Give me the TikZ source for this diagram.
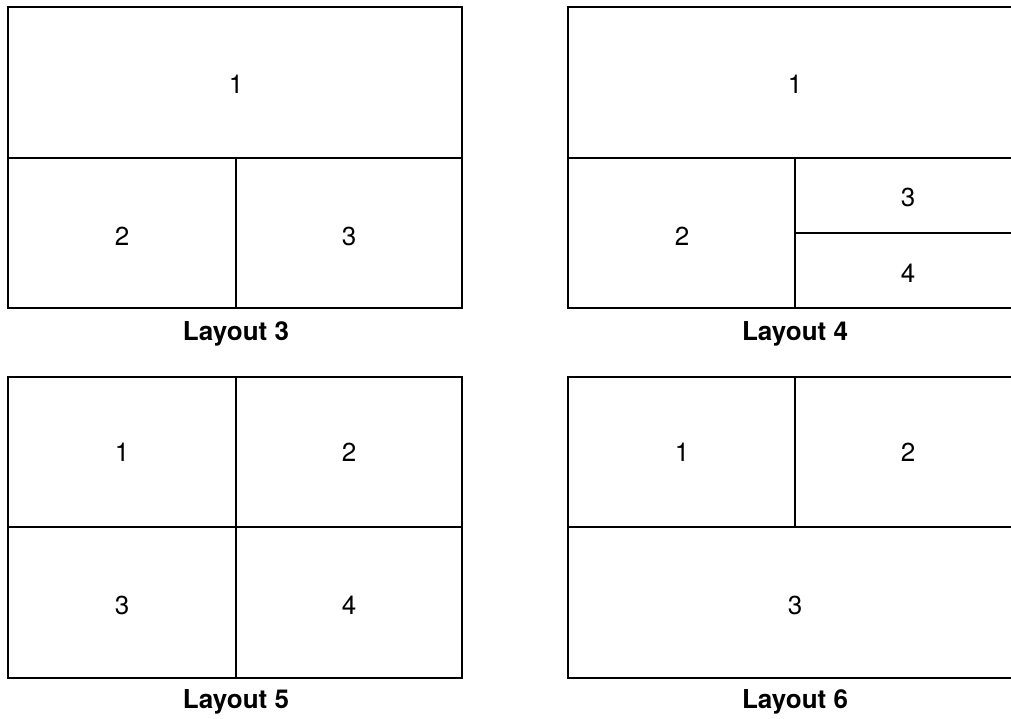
\documentclass[tikz,border=0pt]{standalone}
\usepackage{fontspec}
\setmainfont{TeX Gyre Heros}
\usetikzlibrary{positioning}
\tikzset{
  cell/.style={font=\fontsize{14.8}{17}\selectfont},
  caption/.style={font=\fontsize{14.8}{17}\selectfont\bfseries},
  frame/.style={line width=0.7pt}
}
\begin{document}
\begin{tikzpicture}[x=0.02cm,y=-0.02cm]
\useasboundingbox (0,0) rectangle (1011,719);
\pgfmathsetmacro{\boxw}{454}
\pgfmathsetmacro{\boxh}{301}
\clip (0,0) rectangle (1011,719);
% layout 3
\draw[frame] (8,7) rectangle ++(\boxw,\boxh);
\draw[frame] (8,158) -- ++(\boxw,0);
\draw[frame] (236,158) -- (236,308);
\node[cell] (l3a) at (236,84) {1};
\node[cell] (l3b) at (122,236) {2};
\node[cell] (l3c) at (349,236) {3};
\node[caption] (l3) at (236,334) {Layout 3};
% layout 4
\draw[frame] (568,7) rectangle ++(\boxw,\boxh);
\draw[frame] (568,158) -- ++(\boxw,0);
\draw[frame] (795,158) -- (795,308);
\draw[frame] (795,233) -- (1022,233);
\node[cell] (l4a) at (795,84) {1};
\node[cell] (l4b) at (682,236) {2};
\node[cell] (l4c) at (908,197) {3};
\node[cell] (l4d) at (908,273) {4};
\node[caption] (l4) at (795,334) {Layout 4};
% layout 5
\draw[frame] (8,377) rectangle ++(\boxw,\boxh);
\draw[frame] (8,527) -- ++(\boxw,0);
\draw[frame] (236,377) -- (236,678);
\node[cell] (l5a) at (122,452) {1};
\node[cell] (l5b) at (349,452) {2};
\node[cell] (l5c) at (122,605) {3};
\node[cell] (l5d) at (349,605) {4};
\node[caption] (l5) at (236,702) {Layout 5};
% layout 6
\draw[frame] (568,377) rectangle ++(\boxw,\boxh);
\draw[frame] (568,527) -- ++(\boxw,0);
\draw[frame] (795,377) -- (795,527);
\node[cell] (l6a) at (682,452) {1};
\node[cell] (l6b) at (908,452) {2};
\node[cell] (l6c) at (795,605) {3};
\node[caption] (l6) at (795,702) {Layout 6};
\end{tikzpicture}
\end{document}
